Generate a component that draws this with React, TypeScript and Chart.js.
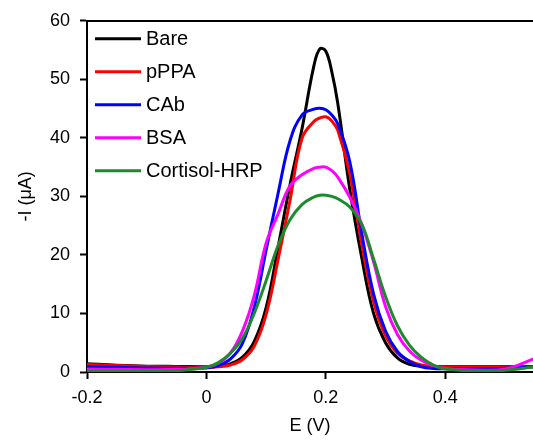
import React, { useEffect, useRef } from "react";
import { Chart, registerables } from "chart.js";

Chart.register(...registerables);

const FONT = "'Liberation Sans', Arial, Helvetica, sans-serif";

// Potential (V)
const potentials = [-0.2, -0.15, -0.1, -0.05, 0, 0.02, 0.04, 0.06, 0.08, 0.1, 0.12, 0.14, 0.16, 0.18, 0.19, 0.2, 0.21, 0.22, 0.24, 0.26, 0.28, 0.3, 0.32, 0.34, 0.36, 0.38, 0.4, 0.45, 0.5, 0.55];

// -I (µA)
const bare = [1.4, 1.15, 1.0, 0.95, 0.9, 1.0, 1.4, 2.5, 5.2, 11.0, 21.3, 32.0, 41.5, 52.3, 55.2, 54.8, 51.3, 45.9, 31.3, 19.6, 10.0, 5.0, 2.4, 1.3, 1.0, 0.95, 0.95, 0.95, 0.95, 0.95];
const pPPA = [1.3, 1.1, 0.95, 0.85, 0.8, 0.9, 1.2, 2.1, 4.4, 9.8, 19.2, 29.3, 39.9, 42.8, 43.4, 43.6, 42.9, 41.3, 33.9, 21.9, 12.0, 6.2, 3.2, 1.9, 1.2, 0.95, 0.9, 0.9, 0.9, 0.9];
const cab = [0.9, 0.8, 0.7, 0.65, 0.7, 1.1, 2.2, 4.8, 11.0, 20.8, 30.5, 39.5, 43.9, 44.9, 45.05, 44.8, 43.9, 42.4, 36.0, 23.8, 13.3, 7.0, 3.5, 1.8, 0.9, 0.6, 0.55, 0.55, 0.65, 0.9];
const bsa = [0.5, 0.45, 0.4, 0.45, 0.8, 1.5, 3.2, 6.9, 13.0, 22.0, 27.0, 31.8, 33.7, 34.8, 35.0, 35.0, 34.4, 33.3, 29.9, 25.3, 18.8, 11.2, 6.4, 3.6, 2.0, 1.1, 0.6, 0.35, 0.5, 2.3];
const cortisolHRP = [0.1, 0.1, 0.1, 0.2, 0.8, 1.6, 3.2, 5.7, 10.0, 15.6, 21.6, 26.0, 28.6, 29.9, 30.2, 30.2, 30.0, 29.6, 28.2, 25.3, 19.3, 12.9, 7.9, 4.6, 2.5, 1.2, 0.5, 0.2, 0.3, 0.9];

const seriesNames = ["Bare", "pPPA", "CAb", "BSA", "Cortisol-HRP"];
const seriesValues = [bare, pPPA, cab, bsa, cortisolHRP];
const seriesColors = ["#000000", "#ff0000", "#0000ff", "#ff00ff", "#1e8a2e"];

const xTicks = [-0.2, 0, 0.2, 0.4];
const xMin = -0.2;
const xMax = 0.547;
const yMin = 0;
const yMax = 60;
const yStep = 10;

const insideLegend = {
  id: "insideLegend",
  afterDraw(chart: any) {
    const { ctx, chartArea } = chart;
    ctx.save();
    ctx.font = `20px ${FONT}`;
    ctx.textBaseline = "middle";
    ctx.textAlign = "left";
    chart.data.datasets.forEach((ds: any, i: number) => {
      const y = chartArea.top + 18 + i * 33;
      const x0 = chartArea.left + 8;
      ctx.strokeStyle = ds.borderColor;
      ctx.lineWidth = 3;
      ctx.lineCap = "butt";
      ctx.beginPath();
      ctx.moveTo(x0, y);
      ctx.lineTo(x0 + 46, y);
      ctx.stroke();
      ctx.fillStyle = "#000";
      ctx.fillText(ds.label, x0 + 51, y + 1);
    });
    ctx.restore();
  },
};

export default function App() {
  const ref = useRef<HTMLCanvasElement>(null);

  useEffect(() => {
    if (!ref.current) return;
    Chart.defaults.font.family = FONT;
    Chart.defaults.color = "#000";
    const datasets = seriesNames.map((name, i) => ({
      label: name,
      data: potentials.map((x, j) => ({ x, y: seriesValues[i][j] })),
      borderColor: seriesColors[i],
      backgroundColor: seriesColors[i],
      borderWidth: 3,
      pointRadius: 0,
      fill: false,
      tension: 0.4,
      borderJoinStyle: "round" as const,
      order: seriesNames.length - i,
      xAxisID: "x",
      yAxisID: "y",
    }));

    const tickGrid = {
      display: true,
      drawOnChartArea: false,
      drawTicks: true,
      tickLength: 7,
      tickWidth: 2,
      tickColor: "#000",
    };

    const chart = new Chart(ref.current, {
      type: "line",
      data: { datasets },
      plugins: [insideLegend],
      options: {
        animation: false,
        responsive: false,
        devicePixelRatio: 1,
        events: [],
        layout: { padding: { top: 20, left: 0, right: 0, bottom: 0 } },
        plugins: {
          legend: { display: false },
          tooltip: { enabled: false },
        },
        scales: {
          x: {
            type: "linear",
            position: "bottom",
            min: xMin,
            max: xMax,
            afterBuildTicks: (axis: any) => {
              axis.ticks = xTicks.map((v) => ({ value: v }));
            },
            ticks: {
              color: "#000",
              font: { size: 18, family: FONT },
              padding: 8,
              maxRotation: 0,
              autoSkip: false,
              callback: (v: any) => String(v),
            },
            grid: tickGrid,
            border: { display: true, color: "#000", width: 2 },
            title: {
              display: true,
              text: "E (V)",
              color: "#000",
              font: { size: 18, family: FONT },
              padding: { top: 0, bottom: 3 },
            },
            afterFit: (s: any) => {
              s.height = 68;
            },
          },
          x2: {
            type: "linear",
            position: "top",
            min: xMin,
            max: xMax,
            ticks: { display: false },
            grid: { display: true, drawOnChartArea: false, drawTicks: false },
            border: { display: true, color: "#000", width: 2 },
            afterFit: (s: any) => {
              s.height = 0;
            },
          },
          y: {
            type: "linear",
            position: "left",
            min: yMin,
            max: yMax,
            ticks: {
              stepSize: yStep,
              color: "#000",
              font: { size: 18, family: FONT },
              padding: 10,
            },
            grid: tickGrid,
            border: { display: true, color: "#000", width: 2 },
            title: {
              display: true,
              text: "-I (μA)",
              color: "#000",
              font: { size: 18, family: FONT },
              padding: { top: 15, bottom: 0 },
            },
            afterFit: (s: any) => {
              s.width = 87;
            },
          },
        },
      },
    } as any);

    return () => chart.destroy();
  }, []);

  return (
    <div style={{ position: "fixed", left: 0, top: 0, width: 533, height: 440, background: "#fff" }}>
      <canvas ref={ref} width={533} height={440} style={{ display: "block" }} />
    </div>
  );
}
